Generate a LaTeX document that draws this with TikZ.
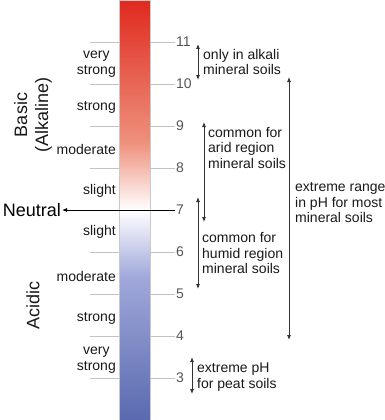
\documentclass[tikz,border=0pt]{standalone}
\usepackage{fontspec}
\setmainfont{Liberation Sans}
\usepackage{tikz}
\usetikzlibrary{arrows.meta}
\definecolor{phRed}{RGB}{224,42,30}
\definecolor{phRedMid}{RGB}{238,145,125}
\definecolor{phBlueMid}{RGB}{160,168,218}
\definecolor{phBlue}{RGB}{90,106,176}
\definecolor{tickGrey}{RGB}{195,195,195}
\definecolor{barBorder}{RGB}{200,200,205}
\definecolor{numGrey}{RGB}{85,85,85}
\pgfdeclareverticalshading{phscale}{100bp}{color(0bp)=(phBlue); color(25bp)=(phBlue);
        color(42bp)=(phBlueMid); color(50bp)=(white); color(58bp)=(phRedMid);
        color(75bp)=(phRed); color(100bp)=(phRed)}
\tikzstyle{strength} = [font={\fontsize{14}{15.5}\selectfont}, align=center, anchor=east,
        inner sep=1pt, text=black!90]
\tikzstyle{phnum} = [font={\fontsize{14}{15}\selectfont}, anchor=west, inner sep=1pt, text=numGrey]
\tikzstyle{note} = [font={\fontsize{14}{15.5}\selectfont}, align=left, anchor=west,
        inner sep=1pt, text=black!90]
\tikzstyle{side} = [font={\fontsize{18}{21}\selectfont}, align=center, rotate=90, text=black!90]
\tikzstyle{soilrange} = [draw=black!80, line width=0.8pt, {Latex[length=5pt,width=4pt]}-{Latex[length=5pt,width=4pt]}]
\tikzstyle{phtick} = [draw=tickGrey, line width=0.7pt]

\begin{document}
\begin{tikzpicture}[x=1pt, y=-1pt]
    \useasboundingbox (0,0) rectangle (384,420);
    % the colour bar
    \shade[shading=phscale] (119,0) rectangle (150,420);
    \draw[barBorder, line width=0.5pt] (119,0) rectangle (150,420);
    % ticks and pH values
    \foreach \p in {3,...,11} {
        \coordinate (lt\p) at (90,504-42*\p);
        \coordinate (rt\p) at (175,504-42*\p);
        \draw[phtick] (lt\p) -- (119,504-42*\p);
        \draw[phtick] (150,504-42*\p) -- (rt\p);
        \node[phnum] (n\p) at (rt\p) {\p};
    }
    % neutral
    \node[font={\fontsize{18}{21}\selectfont}, anchor=east, inner sep=1pt] (neutral) at (62,210) {Neutral};
    \draw[black, line width=0.8pt, -{Latex[length=5pt,width=4pt]}] (rt7) -- (neutral.east);
    % strength labels
    \node[strength] (vsb) at (117,64) {very\\strong};
    \node[strength] (sb) at (117,107) {strong};
    \node[strength] (mb) at (117,149) {moderate};
    \node[strength] (lb) at (117,191) {slight};
    \node[strength] (la) at (117,232) {slight};
    \node[strength] (ma) at (117,276) {moderate};
    \node[strength] (sa) at (117,318) {strong};
    \node[strength] (vsa) at (117,360) {very\\strong};
    \node[side] (basic) at (33,115) {Basic\\(Alkaline)};
    \node[side] (acidic) at (33,305) {Acidic};
    % soil ranges
    \coordinate (alkTop) at (198,44);   \coordinate (alkBot) at (198,80);
    \coordinate (aridTop) at (204,122); \coordinate (aridBot) at (204,222);
    \coordinate (humTop) at (198,197);  \coordinate (humBot) at (198,289);
    \coordinate (extTop) at (289,77);   \coordinate (extBot) at (289,340);
    \coordinate (peatTop) at (192,357); \coordinate (peatBot) at (192,394);
    \draw[soilrange] (alkTop) -- (alkBot);
    \draw[soilrange] (aridTop) -- (aridBot);
    \draw[soilrange] (humTop) -- (humBot);
    \draw[soilrange] (extTop) -- (extBot);
    \draw[soilrange] (peatTop) -- (peatBot);
    \node[note] (alk) at (202,62) {only in alkali\\mineral soils};
    \node[note] (arid) at (207,148) {common for\\arid region\\mineral soils};
    \node[note] (humid) at (201,253) {common for\\humid region\\mineral soils};
    \node[note] (ext) at (294,203) {extreme range\\in pH for most\\mineral soils};
    \node[note] (peat) at (196,377) {extreme pH\\for peat soils};
\end{tikzpicture}
\end{document}
